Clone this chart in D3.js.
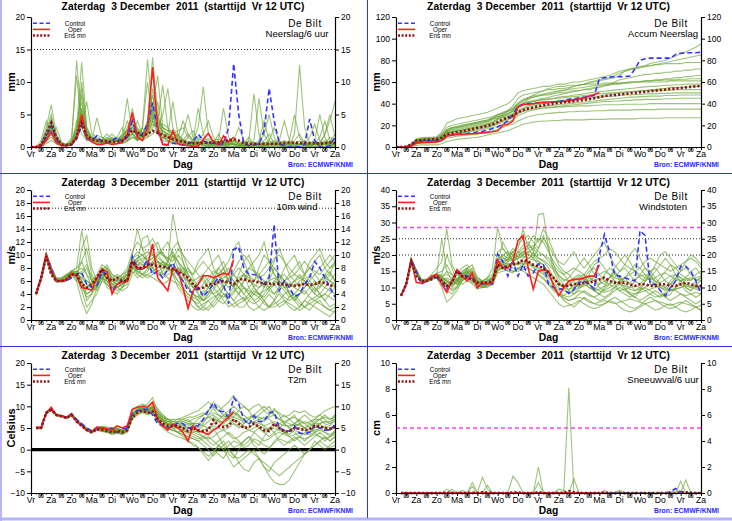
<!DOCTYPE html>
<html><head><meta charset="utf-8">
<script src="https://cdn.jsdelivr.net/npm/d3@7"></script>
<style>
html,body{margin:0;padding:0;background:#fff;}
svg{display:block;font-family:"Liberation Sans",Arial,Helvetica,sans-serif;}
</style></head><body>
<svg id="chart" width="732" height="521"></svg>
<script>
// ---------------- labels ----------------
const dayNames = ["Vr","Za","Zo","Ma","Di","Wo","Do","Vr","Za","Zo","Ma","Di","Wo","Do","Vr","Za"];
const titleText = "Zaterdag  3 December  2011  (starttijd  Vr 12 UTC)";
const legendLabels = ["Control","Oper","Ens mn"];

// ---------------- Neerslag/6 uur (t0..t60) ----------------
const precipControl = [0,0,0.1,1.5, 3.3,1.2,0.3,0.2, 0.3,1.2,3.5,1.3, 1,1.7,0.8,0.6, 1,1.5,0.8,1.5, 4,1.5,2,3.5, 6.8,2.5,0.5,0.3, 0.6,0.4,0.3,0.5, 0.8,2,1,0.5, 0.6,0.4,0.5,3, 12.8,5,0.5,0.2, 0.3,0.5,2.5,9, 4,0.5,0.2,0, 0,0,0.4,4.3, 1,0,0,0.2, 1.5];
const precipOper = [0,0,0.1,1, 2.3,0.7,0.2,0.2, 0.3,1.5,5,1.5, 0.8,0.4,0.4,0.6, 0.4,0.5,0.7,2, 5.3,1.5,1,3, 12.3,3,0.4,0.3, 2.5,0.5,0.3,0.2, 0.1,0.1,1.2,2.1, 0.8,0.3,1.7,0.8, 1.5];
const precipMean = [0,0,0.3,2, 3.7,1.5,0.4,0.3, 0.4,1.5,3.7,1.7, 1.2,1,0.9,0.9, 0.8,0.8,1,1.7, 2.6,2.2,1.8,2, 2.5,2.2,1.8,1.5, 1.2,1,0.8,0.7, 0.6,0.6,0.6,0.7, 0.7,0.7,0.8,1, 1.2,1,0.6,0.5, 0.5,0.5,0.5,0.5, 0.5,0.5,0.6,0.7, 0.7,0.6,0.6,0.6, 0.6,0.5,0.6,0.7, 0.6];
const precipMembers = [
 [0,0,0.5,3, 6.5,2,0.3,0.3, 0.5,13.3,4,1.5, 1,1.2,0.8,0.6, 1,0.8,1,1.5, 3,1.5,1,2, 9,4,2,1.5, 1,0.5,0.3,0.5, 1,3,9.3,2, 0.5,0.2,0,0.3, 0.5,0.2,0,0, 0.3,0.5,0.2,0, 0.5,0.3,0,0, 1,2,0.5,0, 0,0.3,0.5,0.2, 0],
 [0,0,0.3,1.5, 4,1,0.2,0.5, 1,3,13,3, 1.5,1,0.8,1.2, 0.7,1,2,7.5, 2,1.2,3,13.5, 5,2,1,0.8, 1.5,1,0.5,0.3, 0.2,0.5,1,0.3, 0,0,0.5,1, 0.3,0,0,1, 8.2,2,0.3,0, 0,0.5,1,0.3, 0,0,0,0.5, 1,0.3,0,0, 0.5],
 [0,0,0.5,2.5, 5,1.5,0.5,0.3, 0.5,2,8,2, 1,4.5,1.5,0.8, 0.6,0.5,0.8,1, 2.5,1,1.5,4, 13.8,5,2,2, 7,2,1,0.5, 0.3,0.2,0,0, 0.5,2,0.5,0, 0,0.3,0.5,0, 0,0,1,2, 0.5,0,0,0.2, 2,12.6,3,0.5, 0,0,0.5,1.5, 1],
 [0,0,0.2,1.5, 3,1,0.2,0.2, 1.5,11,3,1, 0.8,0.5,0.5,1, 1.5,1,0.8,1.5, 6,2,1,1.5, 3,4,9.5,3, 1,0.5,0.5,1.5, 2.5,1,0.3,0, 0,0.5,1,0.3, 0,0,0.5,1.5, 0.5,0,0,0.3, 1,0.5,0,0, 0,0.5,1,0.3, 0,0.5,2,4, 7],
 [0,0,0.3,1, 2,0.8,0.3,0.2, 0.5,2,6,2.5, 1.5,1,1.2,1.5, 1,0.8,0.5,1, 2,4,2,3, 6,11,3,1.5, 1,2,1,0.5, 0.3,0.5,0.3,0.2, 1,0.5,0.2,0, 0,0,0.3,0.2, 0,0.5,2,5, 1.5,0.3,0,0, 0,0,0.3,0.5, 1,5,1.5,0.3, 0],
 [0,0,1,4, 2,0.5,0.3,0.5, 0.8,1.5,3,7, 2,1.5,1,0.8, 0.5,0.6,1,1.5, 2,1,3,1.5, 2,2.5,5,9, 3,1.5,4,2, 1,0.5,0.5,1, 0.5,1,6,1.5, 0.5,0.2,0,0, 0.5,0.3,0,0, 0.2,1,4,1, 0.3,0,0,0, 0.5,0.3,0,0.8, 2],
 [0,0,0.2,1, 2,3,0.8,0.3, 0.3,2,10,3, 1,0.8,0.6,0.5, 1,1.5,3,1, 1.5,1,2,4, 8,3,1.5,1, 0.5,1,2,5, 1.5,0.5,0.3,0, 0,0,0.5,1, 1.5,0.5,0,0, 1,7.5,2,0.5, 0,0,0.3,0.5, 0.2,0,0,0.3, 0.5,0.5,2,5, 1.5],
 [0,0,0.1,0.5, 1,0.5,0.2,0.2, 0.5,4,2,1, 1.2,1.8,1.5,1, 0.8,1,1.5,3, 5,2,1.5,2, 6,2.5,1.5,1, 0.8,0.5,1,0.5, 0.3,1,2,4, 1.5,0.5,0.3,0, 0,0,0.5,0.8, 0.3,0,0.5,1, 3,1,0.3,0, 0,0,0.5,1.5, 3.5,1,0.3,0, 0.3],
 [0,0,0.5,1.5, 2.5,1.2,0.5,0.3, 0.8,3,9,2.5, 1,0.8,1,1.3, 2,1.2,0.6,0.8, 1.5,1.2,3,10, 4,2,1.2,1.5, 2,2.5,3,1.5, 0.8,0.5,0.2,0.2, 0.5,0.8,0.3,0.5, 1,3,1,0.3, 0,0,0.2,0.5, 0.3,0,0,1, 5,1.5,0.3,0, 0,0.3,1,0.5, 0.3],
 [0,0,0.2,0.8, 1.5,0.5,0.2,0.3, 0.5,1.5,5,1.5, 1,0.8,1.2,2, 1.2,0.8,1.5,4, 2,1,1.5,2, 4,7,2,1, 0.5,0.5,1,2, 1,6,2,0.5, 0.3,0,0,0.5, 1,0.5,0.2,0, 0.3,1,4,1, 0.5,0.3,0,0, 0,0.5,0.3,0, 0.5,1.5,4,1, 0.5],
 [0,0,0.4,2, 3.5,1.5,0.4,0.2, 0.4,2.5,7,2, 1.3,1,0.9,0.7, 0.9,1.2,1.8,2.5, 3.5,2.5,2,2.5, 5,3.5,2.5,2, 1.5,1,0.8,0.5, 0.5,0.8,0.5,0.3, 0.3,0.5,0.8,0.5, 0.8,0.5,0.3,0.2, 0.2,0.3,0.5,0.8, 0.5,0.3,0.5,0.8, 0.5,0.3,0.5,0.3, 0.5,0.8,0.5,0.3, 0.5],
 [0,0,0.2,1.2, 2.8,1,0.3,0.4, 0.6,1.8,4,1.8, 0.9,0.7,0.6,0.8, 1.1,0.9,1.2,2, 4.5,3,1.8,3, 7,4.5,3,2.5, 2.5,1.2,0.6,0.4, 0.6,1.5,0.8,0.4, 0.2,0.3,0.2,0.6, 0.4,0.2,0.6,1, 0.6,0.2,0.1,0.4, 0.8,0.4,0.2,0.3, 0.6,0.9,0.4,0.2, 0.4,0.3,0.6,0.9, 1.2],
 [0,0,0.3,1.8, 3,1.2,0.4,0.3, 0.6,2.2,6,2.2, 1.2,1.1,0.9,0.8, 1,1,1.4,2.5, 4,2.8,2,2.8, 5.5,4,3,2.5, 2,1.5,1,0.7, 0.5,0.5,0.8,0.6, 0.5,0.8,0.6,0.4, 0.5,0.8,0.6,0.4, 0.3,0.5,0.7,0.5, 0.4,0.6,0.9,0.6, 0.4,0.3,0.5,0.7, 0.5,0.4,0.6,0.8, 0.6],
 [0,0,0.2,1.3, 2.5,1,0.3,0.3, 0.5,1.6,4.5,2, 1.4,1.2,1,1.1, 1.3,1.2,1.6,2.6, 3.5,2.5,2.2,2.6, 4.5,3.5,3.5,3, 2,1.8,1.2,0.8, 0.7,0.6,1,1.3, 0.8,0.5,0.4,0.3, 0.5,0.3,0.2,0.3, 0.5,0.6,0.4,0.3, 0.3,0.6,0.5,0.4, 0.5,0.5,0.3,0.2, 0.3,0.5,0.4,0.5, 0.8],
 [0,0,0.4,2.2, 4.5,1.8,0.5,0.3, 0.4,2.8,5.5,1.5, 1,0.9,0.7,0.6, 0.8,1,1.2,1.8, 2.5,2,1.5,2, 3.5,3,2,1.8, 1.2,0.8,0.6,0.5, 0.4,0.3,0.5,0.7, 1,1.2,0.8,0.5, 0.3,0.5,0.4,0.3, 0.5,0.4,0.2,0.3, 0.6,0.8,0.5,0.3, 0.2,0.4,0.6,0.5, 0.4,0.6,0.8,0.5, 0.3],
 [0,0,0.3,1.5, 3.2,1.3,0.3,0.2, 0.4,2,4.8,2.5, 1.5,1.2,1.1,0.9, 0.7,0.9,1.1,2.2, 3,2.2,1.8,2.2, 4,3.2,2.4,2, 1.6,1.3,0.9,0.6, 0.4,0.7,0.9,0.5, 0.4,0.6,0.5,0.7, 0.9,0.6,0.4,0.5, 0.7,0.5,0.3,0.4, 0.5,0.4,0.3,0.5, 0.6,0.5,0.4,0.3, 0.5,0.7,0.5,0.4, 0.6]
];

// ---------------- Accum Neerslag (t0..t60) ----------------
const accumControl = [0,0,0.2,1.5, 4.9,5.5,5.7,5.8, 5.9,7,10,10.8, 11.5,12,12.5,13, 13.8,14.5,15.5,17, 18.5,21,24,30, 37.5,39.5,40,40.3, 40.8,41,41.2,41.5, 42,43,44,44.5, 45.5,46,47,47.5, 63,64,64.5,64.8, 65,65,65.5,72, 80,81.5,82,82, 82,82,82,85.5, 86.5,87,87,87, 87.5];
const accumOper = [0,0,0.1,1, 3.5,4.2,4.4,4.5, 4.7,6,10,11, 11.5,11.8,12,12.3, 12.6,13,13.5,14, 15,20,21,24, 37,39,39.5,40, 41,41.3,41.5,41.7, 41.8,42,42.5,43.5, 44.5,45.5,47,48.5, 50];
const accumMean = [0,0,0.3,2.3, 6,6.5,6.8,7, 7.3,8.5,12,13, 13.8,14.5,15.5,16.5, 17.5,18.5,19.5,21, 23,25.5,27,29, 32,34,35.5,36.5, 37.5,38.5,39.3,40, 40.7,41.3,41.8,42.3, 43,43.6,44.2,45, 46,47,47.5,48, 48.5,49,49.5,50, 50.5,51,51.5,52, 52.5,53,53.5,54, 54.5,55,55.5,56, 56.5];
const accumMembers = [
 [0,0,0.5,3, 7,8,8.5,8.5, 9,14,22,24, 26,27,28,29, 30,31,32,34, 36,38,40,44, 50,52,53,54, 55,56,56,57, 58,58,59,60, 60,61,62,63, 64,65,66,68, 70,71,72,73, 74,75,77,78, 79,80,82,84, 86,88,90,92, 95],
 [0,0,0.3,2, 5,6,6.5,7, 7.5,10,16,18, 19,20,21,22, 23,24,25,27, 30,32,34,38, 45,48,49,50, 51,52,53,53, 54,54,55,56, 57,58,60,61, 62,63,64,66, 68,70,71,72, 73,74,75,76, 77,78,79,80, 81,82,83,84, 85],
 [0,0,0.5,2.5, 6,7,7,7.5, 8,11,15,17, 18,19,20,21, 22,23,24,26, 28,29,31,34, 40,43,45,46, 47,48,49,50, 51,52,54,56, 57,58,59,60, 61,62,63,64, 66,70,72,73, 74,75,75,76, 76,77,77,77, 77,78,78,78, 78],
 [0,0,0.2,1.5, 4,5,5,5.5, 6,9,13,14, 15,16,17,18, 19,20,21,22, 26,28,29,31, 36,40,44,46, 47,48,48,49, 50,50,51,52, 52,53,53,54, 55,56,58,60, 62,63,64,65, 66,67,67,68, 68,69,69,70, 70,71,71,72, 72],
 [0,0,0.3,2, 5,5.5,6,6, 6.5,9,14,16, 17,18,19,20, 21,22,23,25, 27,29,31,33, 37,40,42,43, 44,45,46,47, 48,49,50,51, 52,53,54,55, 56,57,57,58, 58,59,59,60, 60,61,61,62, 62,63,63,64, 64,65,65,66, 66],
 [0,0,0.5,3, 7.5,8.5,9,9, 9.5,12,18,20, 21,22,23,24, 25,26,27,28, 30,31,33,35, 39,42,45,48, 50,52,54,55, 56,56,57,57, 57,58,58,58, 58,59,59,59, 59,59,60,60, 60,60,60,60, 60,60,61,61, 61,61,61,61, 61],
 [0,0,0.2,1.5, 4.5,5,5,5.5, 6,8,11,12, 13,14,15,16, 17,18,19,20, 22,24,26,28, 32,35,37,38, 39,40,41,42, 43,43,44,44, 45,45,46,46, 47,48,49,49, 50,50,51,51, 52,52,53,53, 54,54,55,55, 55,55,56,56, 56],
 [0,0,0.3,2, 5,6,6.5,6.5, 7,9,13,14, 15,15.5,16,17, 18,19,20,21, 23,25,27,30, 34,36,38,39, 40,40.5,41,41.5, 42,42.5,43,43.5, 44,44.5,45,45.5, 46,46.5,47,47, 47.5,48,48,48.5, 48.5,49,49,49, 49.5,49.5,49.5,50, 50,50,50,50, 50],
 [0,0,0.2,1.2, 3.5,4,4.2,4.5, 5,7,10,11, 12,13,14,14.5, 15,16,17,18, 19,21,23,25, 29,31,33,34, 35,36,36.5,37, 37.5,38,38.5,39, 39.5,40,40.5,41, 41.5,42,42,42.5, 42.5,43,43,43.5, 43.5,44,44,44, 44,44.5,44.5,44.5, 45,45,45,45, 45],
 [0,0,0.3,2.5, 6,7,7.5,8, 8,10,14,15, 16,17,18,19, 20,21,22,23, 25,27,28,30, 32,33,34,35, 35.5,36,36,36.5, 37,37,37.5,37.5, 38,38,38,38.5, 38.5,39,39,39, 39,39.5,39.5,39.5, 39.5,39.5,40,40, 40,40,40,40, 40,40,40,40, 40],
 [0,0,0.1,1, 3,3.5,3.5,4, 4,6,8,9, 10,10.5,11,11.5, 12,13,14,15, 16,18,20,21, 24,26,28,29, 30,30.5,31,31.5, 32,32,32.5,32.5, 33,33,33,33.5, 33.5,33.5,34,34, 34,34,34,34.5, 34.5,34.5,34.5,34.5, 35,35,35,35, 35,35,35,35, 35],
 [0,0,0,0.5, 1.5,2,2,2, 2,3,5,6, 7,7.5,8,8.5, 9,10,11,12, 13,14,15,17, 19,21,22,23, 23.5,24,24,24.5, 24.5,25,25,25, 25,25,25.5,25.5, 25.5,25.5,26,26, 26,26,26,26, 26.5,26.5,26.5,26.5, 26.5,27,27,27, 27,27,27,27, 27],
 [0,0,0.3,2, 5.5,6.5,7,7, 7.5,10,15,17, 18,19,20,21, 22,23,24,26, 28,30,33,36, 41,44,46,47, 48,49,50,51, 52,52.5,53,54, 54.5,55,56,56.5, 57,57.5,58,58.5, 59,59.5,60,60, 60.5,61,61,61.5, 61.5,62,62,62, 62.5,62.5,63,63, 63],
 [0,0,0.2,1.8, 5,5.5,6,6, 6.5,8.5,12,13.5, 14.5,15.5,16.5,17.5, 18.5,19.5,21,23, 26,28,30,33, 37,39,41,42, 43,44,44.5,45, 46,46.5,47,48, 48.5,49,50,50.5, 51,51.5,52,52.5, 53,53.5,54,54.5, 55,55.5,56,56, 56.5,57,57,57.5, 57.5,58,58,58, 58],
 [0,0,0.4,2.6, 6.5,7,7.5,7.5, 8,11,16,18, 19,20,21,22, 23,24,25,27, 29,31,33,35, 38,40,41,42, 43,43.5,44,44.5, 45,45.5,46,46.5, 47,47.5,48,48.5, 49,49.5,50,50, 50.5,51,51,51.5, 51.5,52,52,52, 52.5,52.5,52.5,53, 53,53,53,53, 53],
 [0,0,0.2,1.4, 4,4.5,4.8,5, 5.5,7.5,11,12, 13,13.5,14,15, 16,17,18,19.5, 21,23,25,27, 31,33,35,36, 37,37.5,38,38.5, 39,39.5,40,40.5, 41,41.5,42,42.5, 43,43.5,44,44.5, 45,45.5,46,46, 46.5,46.5,47,47, 47,47.5,47.5,47.5, 48,48,48,48, 48]
];

// ---------------- 10m wind (t1..t60) ----------------
const windControl = [4,6.5,10,8, 6,6,6,6.5, 7,7.3,5.5,5, 5.2,7.5,7,4.5, 5.5,6,6,9.8, 8,8,9.3,7, 7.5,6.5,7.8,8.8, 7,6,4.5,4.2, 5,3.6,4.5,5.5, 6.5,5.5,2.5,10.8, 11.3,8,7,7, 6.8,5.5,6.5,14.7, 4.5,6,5,3.6, 4,5.5,6.5,9, 8,6.5,5,3.5];
const windOper = [4,6.5,10,7.5, 6,6,6.2,7.2, 6.8,5,4.8,4.6, 6.5,7.8,7.4,4, 5.5,5.8,6,9, 7.8,7.8,8.3,11.7, 6.5,5.5,4.5,8, 7.5,5,1.8,4.5, 5.5,6.8,6.8,6.5, 6.8,7.2,7,9.3];
const windMean = [4,6.5,9.8,7, 6,6,6.2,7, 7,5.5,5,5.5, 6.5,7.8,6.5,6, 6.5,6,6,9, 8,8,8.5,8.5, 8.3,8.2,8,7.8, 7.5,7,6.5,5.5, 4.8,5,5.5,5.5, 5.8,6,5.8,5.5, 6.2,6.3,6,6, 5.8,5.6,5.6,5.5, 5.6,5.5,5.3,5.3, 5.4,5.5,5.4,5.5, 5.8,5.7,5.3,5.2];
const windMembers = [
 [4,6.5,10,7.5, 6,6,6.5,7.5, 8,13.8,9,6, 5,7,8,6, 5.5,6,7,10, 14,11,9,8, 9,8,9,16.3, 12,9,6,5, 4,3,4,6, 7,5,4,3, 4,6,7,5, 4,3,2,3, 5,6,4,3, 2,3,4,5, 4,3,4,5],
 [4,6,9.5,7, 6,6.2,6.8,7, 6,3,1,2.5, 5,8,7,5.5, 6,5,5.5,8, 9,12.5,13,10, 9,7,8,10, 9,8,6,3, 2,2.5,3,2, 3,4,3,2, 2.5,3,4,3, 2,1.5,2,3, 4,3,2,1.5, 2,3,2.5,2, 1.5,1,0.5,1.5],
 [4,6.8,10.2,8, 6.5,6.5,7,7.2, 7,9,7,5, 4.5,6,7.5,6.5, 7,6.5,6,9.5, 10,9,10,11, 12,10,9,11, 12,10,8,7, 9,10,11,8, 7,8,9,11, 12,9,7,6, 8,10,9,7, 6,8,9,10, 8,7,9,10, 11,9,8,9],
 [3.8,6.3,9.8,7.2, 6,5.8,6,6.8, 7.5,6,3,4, 6.5,7.5,6,5, 5,4.5,5,7, 8,7,7.5,9, 8,9,7.5,8, 7,6,5,4, 3,4,5,6, 7,8,6,5, 4,5,4,3, 3.5,5,6,8, 7,5,4,3, 4,5,7,6, 5,6,7,6],
 [4.2,6.6,10.4,7.8, 6.2,6.3,6.8,7.5, 7,5,5,6, 7,8.5,8,7, 6,6,7,9, 7,8,9,8, 7,7.5,9,10, 8,7,6,5, 6,7,8,9, 10,8,6,5, 7,9,10,8, 6,5,7,9, 11,9,7,6, 5,7,8,9, 10,8,7,9],
 [4,6.4,9.9,7.4, 5.8,6,6.3,7, 6.5,4.5,2,3, 4,6,5.5,4.5, 4,5,6,7.5, 6.5,7,7,6.5, 6,5.5,6,7, 5,4,3,2, 1.5,2,3,3.5, 4,3,2,2.5, 3,3.5,2,1.5, 2,3,4,3, 2,2.5,3.5,4, 3,2,1.5,2.5, 3,2,1.5,2],
 [4,6.5,10,7.6, 6.1,6.1,6.6,7.3, 7.5,7,6,5.5, 6,7,7,6, 5.5,6,6.5,8.5, 9.5,10,9,8.5, 10,10.5,9,8, 10,9,7,6, 4,3,4,5, 6,6.5,7,6, 5,6,8,9, 10,12,9,7, 6,5,5,6, 7,6,5,4, 6,7,6,5],
 [4.1,6.7,10.1,8.2, 6.4,6.2,6.6,7, 6,11,13,8, 6,7,5,4.5, 5,5.5,6,8, 9,8.5,8,9, 10,11,12,10, 9,7,5,4, 3.5,4.5,6,7, 8,7,6,7, 8,7,5,4, 5,6,5,4, 5,6,7,8, 9,7,6,5, 4,5,6,7],
 [3.9,6.4,9.7,7.1, 5.9,5.9,6.2,6.9, 7,6,5,5.5, 6,6.5,5.5,5, 5.5,6.5,7,8, 7.5,7,6.5,7, 7.5,8,8.5,7, 6,5,4,3.5, 3,2,1.5,2.5, 3.5,5,6,5, 4,3,3.5,4.5, 4,3,2,2.5, 3,4,4.5,3.5, 2.5,2,3,3.5, 4,3,2,2.5],
 [4,6.6,10.3,8, 6.3,6.4,7,7.6, 8,9,11,7, 5.5,6.5,7,6, 6,7,8,10.5, 12,11,11.5,12.5, 11,10,9.5,9, 11,10,9,8, 7,6,5,6, 8,9,7,6, 5,4,5,6, 7,6,5,6, 7,6,4,3, 4,5,6,7, 8,9,10,9],
 [4,6.5,10,7.5, 6,6.1,6.5,7.2, 6.5,5.5,4,4.5, 5.5,7,6.5,5.5, 5,5.5,6,8, 8.5,9,8,7.5, 8,9,8.5,8, 7,6.5,6,5, 5.5,6.5,5,4, 4.5,5.5,6.5,7, 6,5,4,5, 6,5.5,4.5,4, 5,6,5.5,5, 4.5,4,5,6, 5.5,5,4.5,4],
 [4,6.5,10,7.7, 6.1,6,6.5,7.4, 7.5,7,8,6, 5,6.5,7,5.5, 4.5,5,6.5,9, 9.5,10,10.5,10, 9,8.5,8,7.5, 8,7,8,6.5, 5,4,5,6.5, 5,4,3.5,4, 6,7,6.5,5, 4,3.5,4.5,5.5, 6.5,7,6,5, 6,6.5,5.5,4.5, 5,6.5,7.5,6],
 [4,6.5,10,7.8, 6.2,6.2,6.8,7.4, 7.2,6.5,5.5,5, 6.5,8,7.5,6.2, 6.2,6.5,7.5,9.5, 9,9.5,9.5,10, 9.5,9,8.5,8.5, 7.5,6,5,4, 3.5,3,3.5,4.5, 6,7,8,7, 6,5,4.5,4, 4,4.5,5,6, 5.5,4.5,3.5,4, 5,6,5,4, 3.5,4,5,6],
 [4,6.4,9.9,7.3, 5.9,6,6.4,7.1, 6.8,7.5,8.5,6.5, 5.5,7.5,8.5,7, 6.5,7,7.5,9, 8.5,8,9,9.5, 10,9,8,7, 7.5,8,7,6, 6.5,7,6,5, 4,3.5,4,5, 6,7,8,7.5, 7,8,9,8, 7,6,6.5,7, 8,9,8,7, 6,7,8,8.5],
 [4,6.5,10,7.6, 6,6,6.4,7.2, 7,6,4,4.5, 5,6.5,6,5, 5,5.5,6,8.5, 7.5,7,8,8, 7.5,7,6.5,6, 5.5,4.5,3.5,3, 2.5,3.5,4.5,4, 3,2.5,3.5,4.5, 5,4,3,2.5, 3,4,5,5.5, 4.5,3.5,3,3.5, 4,4.5,3.5,3, 3.5,4,3.5,3],
 [4,6.6,10.1,7.9, 6.3,6.3,6.9,7.5, 7.5,8,7,6, 6,8,8,6.5, 6,6.5,7,9.5, 10.5,10,9,9.5, 10.5,10,9.5,10.5, 9,8,7.5,7, 8,9,8,7, 6,5,6,7.5, 9,10,9,7.5, 6.5,7,8,9.5, 10,9,8,7, 6.5,7,8,7.5, 7,8,9,10],
 [4,6.5,10,7.5, 6,6,6.5,7.3, 7,6.5,6,5.5, 6,7,6.5,5.5, 5.5,6,6.5,8.8, 8.5,8.5,8,8.5, 9,8.5,8,7.5, 8,7.5,6.5,5.5, 4.5,5.5,6.5,7.5, 7,6,5,5.5, 6.5,7,6,5.5, 5,5.5,6,6.5, 6,5,5.5,6, 6.5,6,5,5.5, 6,6.5,6,5.5],
 [4,6.5,10,7.5, 6,6.1,6.6,7.4, 7,5,3.5,4, 5.5,6.5,6,5, 5,5.5,6.5,8, 7,6.5,7,7.5, 7,6.5,7,7.5, 6,5,4,3, 2,1.5,2,3, 4,5,4,3, 2,2,3,4, 3.5,2.5,2,2, 2.5,3,2.5,2, 1.5,2,2.5,3, 2.5,2,1.5,1.2]
];

// ---------------- Windstoten (t1..t60) ----------------
const gustControl = [7.5,11,18.5,15, 11,12,13,13, 11.5,9.5,12,15.5, 14,13.5,13,10, 11,11.5,11,20.3, 18,13.5,18,13.5, 17,13.5,14.5,17.3, 17,11,10,9.5, 9.5,8.2,9.5,11.5, 12,11,9.5,20, 26.3,21,14,13.5, 13,12.5,12,27.5, 26,11,11,9, 7.5,10,12,16.5, 16.5,15,12,8];
const gustOper = [7.5,11,18.5,11.5, 11.3,12,13.5,14, 11,8.5,12,15.5, 13.5,12,14.5,10, 11.5,11,11.5,18.5, 16,16,18,24.5, 26,16,9.5,15, 15.5,15,10.5,7.5, 10,12,12.5,12.5, 13,13.5,13.5,17];
const gustMean = [7.5,11,18,13.5, 12,12,12.5,13.5, 12,10.5,11.5,15, 13.5,13,12.5,11.5, 11.5,11.5,12,17, 16,16.5,17,17.5, 18.5,18,17,16.5, 16,14.5,13,11, 10.5,10.5,11,11, 11.5,11.5,12,12.5, 13,12,11.5,11.5, 11.5,11,10.5,11, 11,10.5,10.5,11, 11,10.5,10.5,11, 11.5,11,10.5,10.5];
const gustMembers = [
 [7.5,11,18.5,15, 12,12.5,14,16, 18,28,17,14, 13,14,16,13, 12,13,16,28.5, 22,20,21,22, 28,22,20,32.5, 32.8,22,15,12, 10,8,9,12, 14,11,9,8, 10,13,15,12, 10,8,7,9, 12,14,11,9, 7,8,10,12, 10,9,11,10],
 [7.3,10.8,18,14, 11.5,12,12.5,13, 10,5.5,7,9, 12,13,11,9.5, 10,11,12,16, 17,19,21,18, 17,19,20,18, 17,14,11,8, 6,5,4,5.5, 7,6,5,4.5, 5,6,7,6, 5,4,3.5,4.5, 6,7,6,5, 4,3.5,4,5, 6,5,4,3],
 [7.6,11.2,19,15.5, 12.5,12.5,13,14, 13,15,14,12.5, 15,16,14,12, 11,12,13.5,17, 19,18.5,21,23, 25,26,24,22, 25,23,20,18, 17,19,21,18, 16,18,20,22, 24,20,17,15, 17,20,22,19, 16,14,17,20, 21,19,17,15, 18,20,19,17],
 [7.4,10.9,17.5,14.5, 11.5,11.8,12.5,13, 12,11,9,10, 12,14,13,11, 10,10,11,15, 16,15,14.5,16, 17,16,15,14, 13,11,9,8, 7.5,9,11,12, 13,11,9,8, 7,8,10,12, 13,11,9,10, 12,14,12,10, 9,11,13,12, 10,9,11,12],
 [7.5,11.1,18.8,15.2, 12.2,12,13,13.5, 12.5,10,11,14, 16,17,15,12, 11.5,12,12.5,18, 18,17,17.5,20, 21,22,23,21, 20,18,16,14, 12,13,15,17, 19,17,14,12, 11,13,16,18, 20,18,15,13, 12,13,15,17, 19,17,14,12, 13,15,16,14],
 [7.5,11,18.2,14.8, 11.8,11.8,12.8,14, 25,15,12,11, 12.5,13,12,11, 10.5,11,12,16.5, 17.5,16,15,16, 15,14,13,12, 11,9,7,5, 4,4.5,5,6, 5,4,3.5,4, 5,6,5.5,4, 3,2.5,3,4, 5,4,3,3.5, 4.5,5,4,3, 2.5,3,4,3],
 [7.6,11,18.6,15, 12,12.2,13.2,14.2, 13.5,12,10,12, 14,15,13,11.5, 11,11.5,12,19, 20,19,19.5,21, 23,24,21,19, 18,16,13,11, 10,11,13,14, 12,10,9,11, 14,16,15,13, 11,10,12,14, 16,15,13,11, 10,12,14,13, 11,10,12,13],
 [7.4,11,18.4,14.6, 11.8,12,12.8,13.6, 14,20,16,12, 11,12,11.5,10.5, 10,10.5,11.5,17.5, 24,21,18,17, 19,20.5,19,22, 26,22,17,13, 11,9,8,9.5, 11,13,12,10, 9,10,11,9, 8,7,8,9, 10,9,8,7, 8,9,10,11, 9,8,7,8],
 [7.5,11,18.5,15, 12,12,13,13.8, 12,9,8,10, 13,15.5,14.5,12, 11,11,12,16, 18,20,22,21, 20,21,22,25, 24,21,18,16, 14,12,10,11, 13,15,16,14, 12,11,13,15, 16,14,12,11, 13,15,16,14, 12,11,13,15, 16,14,12,13],
 [7.5,11,18.3,14.8, 12,12,13,13.5, 12.5,13,12,11, 13,14,12.5,11, 10,11,12,15.5, 16,17,16,15.5, 17,18,16,15, 14,12,10,8, 7,6,6.5,8, 9,8,7,6, 6.5,7.5,9,10, 9,8,7,6, 7,8,9,8, 7,6,7,8, 7,6,5,6],
 [7.6,11.1,18.7,15.3, 12.3,12.4,13.4,14.4, 15,17,14,12, 14,16,17,13, 12,13,14,21, 22,20,18,19, 20,23,26,24, 28,25,21,17, 15,14,12,10, 12,14,17,18, 16,14,12,11, 13,15,17,16, 14,12,11,13, 15,17,16,14, 13,12,14,15],
 [7.5,11,18.5,15, 12,12,13,13.6, 12.5,11,10.5,11.5, 13.5,14.5,13.5,12, 11,11.5,12,17, 17,16.5,17,17.5, 18,17.5,17,16, 15,13.5,12.5,11, 10,9.5,10,10.5, 11,10,9,9.5, 10.5,11,10,9, 9.5,10,10.5,10, 9,9.5,10,10.5, 10,9,9.5,10, 10.5,10,9.5,9],
 [7.5,11,18.5,15, 12,12.1,13.1,14, 13,12.5,11,12, 14,15,13.5,12, 11.5,12,13,18.5, 19.5,18,18.5,19, 19.5,19,18.5,18, 17,15,13,11.5, 10,10.5,12,13.5, 14,13,12,11, 12,13,14,13, 12,11.5,12.5,13.5, 14,13,12,11.5, 12.5,13.5,14,13, 12,12.5,13,13.5],
 [7.5,11,18.4,14.9, 11.9,12,12.9,13.7, 12.8,12,11.5,12.5, 14.5,16,14,11.5, 10.5,11,11.5,15.5, 16.5,18,20,19.5, 21,20,19,17, 16,14,11,9, 7.5,7,8,9, 8.5,7.5,7,8, 9.5,11,12,11, 9.5,8.5,8,8.5, 9,8,7,7.5, 8.5,9.5,9,8, 7.5,8,8.5,8],
 [7.5,11,18.6,15.1, 12.1,12.2,13.2,14.1, 13.5,14,13,12, 13,14.5,15,13, 12,12.5,13,18, 20,21,20,20.5, 22,23,22,20, 20,19,17,15, 14,15,16,15, 14,16,18,19, 20,22,21,19, 17,16,15,16, 18,19,18,17, 16,15,16,17, 18,19,18,16],
 [7.4,10.9,18.2,14.7, 11.9,11.9,12.7,13.4, 12,10.5,9.5,10.5, 12.5,13,12,10.5, 10,10.5,11,14.5, 15,15.5,15,15, 15.5,16,15,14, 12.5,11,9.5,8, 6.5,6,6.5,7, 6.5,5.5,5,5.5, 6,5.5,5,5.5, 6,6.5,6,5.5, 5,5.5,6,5.5, 5,4.5,5,5.5, 5,4.5,4,4.5],
 [7.5,11,18.5,15, 12,12.1,13.1,14, 13,12,11,12.5, 14,15,14,12.5, 11.5,12,12.5,17.5, 18,18.5,19,19.5, 20,21,20.5,19, 18.5,17,15.5,13.5, 12.5,12,12.5,13, 12.5,12,13,14, 15,14,13,12.5, 13,14,15,14, 13,12.5,13,14, 14.5,13.5,12.5,12, 12.5,13,12.5,12],
 [7.5,11,18.5,15, 12,12,13,13.7, 12.5,11.5,11,12, 13.5,14,13,11.5, 11,11.5,12,16, 17,17.5,17,17, 17.5,17,16.5,15.5, 14.5,13,11.5,10, 9,8.5,9,10, 10.5,11,10,9, 8.5,9,10,11, 10.5,9.5,9,9.5, 10,11,10.5,10, 9.5,9,9.5,10, 11,10.5,10,9.5]
];

// ---------------- T2m (t1..t60) ----------------
const tempControl = [5,5.2,8.5,9.3, 8,7.8,7.5,8.3, 7,6,5,4.3, 5,5,4.8,5, 4,4.8,5,8.5, 9,9.3,9.3,8, 6,5.5,5,5.3, 6.2,6,5,5.3, 5.5,7,9,10.8, 9,8.7,7.5,12, 10.5,7,5.8,7.8, 6.5,6.5,8.5,8.7, 5,4.5,4.2,5.5, 3.8,3.7,4,5.8, 5,4.5,4.5,5.8];
const tempOper = [5.2,5,8.5,9.8, 8,7.8,7.3,8.2, 6.5,5.5,4.5,4, 5.2,5,4.8,4.5, 5.5,5,5.5,9.3, 9.8,10,9.8,11, 7,5.5,4.5,5.8, 5,4,2,5.5, 4.3,4,3.5,4.5, 5.2,6.5,7.5,8.7];
const tempMean = [5,5,8.5,9.2, 8,7.7,7.3,8, 6.5,5.5,4.5,4, 4.7,4.6,4.3,4, 4.3,4,4.5,7.5, 8.5,9,8.5,8.8, 7,6,5.5,5.5, 5.5,5,4.3,5, 4.5,4.3,4.5,6.8, 5.5,5.2,5.5,7, 6,5,5.2,6, 5.3,4.5,4.3,6, 5,4.2,4.2,5, 4.8,4.5,4.7,5.5, 5.3,5,4.8,5.3];
const tempMembers = [
 [5,5,8.5,9.3, 8,7.8,7.4,8, 6.8,5.8,4.8,4.2, 5,5.2,5,4.8, 5,4.5,5,8.5, 9.5,10,10.5,12, 9,7,6,5, 4,3,2,1.5, 0.5,-1,-2.5,-1, 1,0,-2,-4, -3,-4.5,-5,-3, -2,-4,-6,-7.5, -8,-8,-7,-5, -3,-1,0,1, 2,1,0.5,1],
 [5.1,5.2,8.7,9.5, 8.2,8,7.6,8.4, 7,6,5,4.5, 5.2,5.4,5.2,5, 5.5,5,5.5,9, 10,10.5,10,11, 9.5,8,7,6.5, 7,7.5,8,8.5, 9,10,11,10, 9,10,11,12.5, 11,10,9,10, 10.5,9,8,9, 8.5,7.5,8,9, 8.5,9,8,7.5, 8,9,9.5,10],
 [4.9,4.8,8.2,9, 7.8,7.6,7.2,7.8, 6.5,5.5,4.5,4, 4.5,4.2,4,3.5, 3.8,3.5,4,7, 8,8.5,8,8.5, 7,6,5,4.5, 4,3.5,3,2.5, 2,1,0,-1.5, 0,1,2,0.5, 1,2,3,1, 0,-1,0,2, 3,4,3,2, 3,4,5,4, 3,2,3,4],
 [5,5.1,8.6,9.4, 8.1,7.8,7.4,8.2, 6.8,5.8,4.8,4.3, 5,4.8,4.6,4.2, 4.5,4.2,4.8,8, 9,9.5,9,9.8, 8.5,7.5,7,6.5, 6,6.5,7,6, 5,6,8,9.5, 8,7,8,9, 8,6,7,8, 7,6.5,8,9.5, 8,6,5,6, 7,6,5,6.5, 7,6,5.5,7],
 [5,5,8.4,9.2, 8,7.7,7.3,8, 6.6,5.6,4.6,4.1, 4.6,4.4,4.2,3.8, 4,3.8,4.3,7.5, 8.5,9,8.5,9, 6.5,5.5,5,4.5, 4,4.5,3.5,3, 2.5,3,4,5, 3,1,-1,-2, 0,2,3,2, 1,3,5,4, 2,1,2,3, 2,1,2,3, 4,3,2,3],
 [5,5,8.6,9.3, 8,7.8,7.5,8.1, 6.7,5.7,4.7,4.1, 4.8,4.9,4.7,4.4, 4.8,4.4,4.9,8.2, 9.2,9.6,9.2,10, 8,7,6,6, 6.5,7,6.5,6, 7,8,9,11, 10,9,8,7.5, 9,10,9,7, 8,9,10,8, 7,6,7,8, 6,5,6,7, 8,7,6,8],
 [5,5,8.5,9.2, 8,7.7,7.4,8, 6.6,5.6,4.6,4, 4.6,4.5,4.3,4, 4.2,3.8,4.4,7.8, 8.8,9.2,8.5,9, 7.5,6.5,6,5.5, 5,4.5,4,3.5, 3,2,1,0, -1,-2,0,-1, -3,-2,-1,0, -2,-4,-5,-3, -2,-1,0,1, 0,-1,0,2, 1,0,1,2],
 [5,5.1,8.5,9.3, 8.1,7.9,7.5,8.2, 6.8,5.9,4.9,4.3, 5,5,4.8,4.5, 4.9,4.6,5,8.4, 9.3,9.8,9.5,10.5, 9,8,7,6, 5.5,5,5.5,6, 6,5.5,5,6, 7,8,7,6, 5,6,7,6, 5,4,5,6, 5,4,4.5,5, 6,5,4,5, 6,5,4.5,5.5],
 [5,5,8.5,9.3, 8,7.8,7.4,8.1, 6.7,5.7,4.7,4.2, 4.8,4.7,4.5,4.2, 4.6,4.2,4.6,8, 9,9.5,9,9.5, 8,6.5,5.5,5, 5,5.5,6,5.5, 4,3,2,1, 2,3,4,3, 2,1,2,4, 5,4,3,4, 5,6,5,4, 3,2,3,4, 5,4,3,4.5],
 [5,5,8.5,9.3, 8,7.8,7.4,8.1, 6.7,5.7,4.7,4.2, 4.8,4.8,4.5,4.2, 4.7,4.3,4.8,8.2, 9,9.4,9.2,10, 8.5,7.5,6.5,6, 6,6,6.5,7, 7.5,8,9,10, 9,8,9,10, 9,8,7,8, 9,10,9,8, 7,8,7,6, 7,8,7,6, 7,8,7,8],
 [5,4.9,8.3,9.1, 7.9,7.7,7.3,7.9, 6.5,5.5,4.5,4, 4.5,4.3,4,3.6, 3.9,3.6,4.2,7.2, 8.2,8.8,8.2,8.7, 6.5,5,4,3.5, 3,2.5,2,1, 0.5,-0.5,-1.5,-0.5, 1,2,0,-1.5, -2,-1,0,-1, -2,-3,-4,-5, -6,-5,-4,-3, -2,-1,0,1, 2,3,2,3],
 [5,5,8.5,9.3, 8,7.8,7.4,8.1, 6.7,5.7,4.7,4.2, 4.8,4.7,4.5,4.2, 4.6,4.2,4.7,8, 9,9.4,9,9.5, 7.5,6.5,6,5.5, 5,5,5,4.5, 4,4.5,5,5.5, 5,4.5,5,6, 5.5,5,4.5,5, 5.5,5,4.5,5, 4.5,4,4.5,5, 5,4.5,4,4.5, 5,5.5,5,5.5],
 [5,5,8.5,9.3, 8,7.8,7.4,8.1, 6.7,5.7,4.7,4.2, 4.7,4.6,4.4,4, 4.4,4,4.5,7.8, 8.8,9.2,8.8,9.2, 7.5,6.5,5.5,5, 5,4.5,4,4, 4.5,5.5,6.5,7.5, 6.5,5.5,6,7, 6.5,5.5,5,6, 6.5,5.5,4.5,5.5, 5,4,3.5,4.5, 4,3.5,4,5, 5.5,5,4.5,5],
 [5,5,8.5,9.3, 8,7.8,7.4,8.1, 6.7,5.7,4.7,4.2, 4.9,4.9,4.7,4.4, 4.8,4.4,4.9,8.3, 9.3,9.7,9.3,10, 8.5,7.5,7,7, 7,7,7.5,7.5, 8,8.5,8,8.5, 8,7.5,8,8.5, 7.5,7,7.5,8, 7.5,7,7.5,8, 7,6.5,7,7.5, 6.5,6,6.5,7, 7,7.5,7,7.5],
 [5,5,8.5,9.2, 8,7.7,7.3,8, 6.6,5.6,4.6,4.1, 4.6,4.5,4.2,3.9, 4.1,3.8,4.3,7.6, 8.6,9,8.5,8.8, 6.8,5.8,5,4.5, 4,3.5,3,2.5, 2,2.5,3,2, 1,0,1,2, 1.5,0.5,1,2.5, 2,1,0.5,1.5, 2.5,2,1.5,2.5, 3,2.5,3,3.5, 3,2.5,3,3.5],
 [5,5,8.5,9.3, 8,7.8,7.4,8.1, 6.7,5.7,4.7,4.2, 4.8,4.8,4.6,4.3, 4.7,4.3,4.7,8.1, 9.1,9.5,9.1,9.7, 8,7,6.5,6, 6,5.5,5,5, 5.5,6.5,7.5,8, 7,6,7,8.5, 8,7,6,6.5, 7,7.5,7,6, 6,6.5,6,5.5, 6,6.5,6,5.5, 6,6.5,6,6.5],
 [5,5,8.5,9.3, 8,7.8,7.4,8.1, 6.7,5.7,4.7,4.2, 4.7,4.6,4.4,4.1, 4.5,4.1,4.6,7.9, 8.9,9.3,8.9,9.3, 7.8,6.8,6,5.5, 5.5,5,4.5,4, 3.5,3,2.5,3, 4,4.5,3.5,2.5, 3,4,4.5,4, 3,2,2.5,3.5, 4,3.5,3,3.5, 4,3.5,3.5,4, 4.5,4,3.5,4],
 [5,5,8.5,9.3, 8,7.8,7.4,8.1, 6.7,5.7,4.7,4.2, 4.8,4.7,4.5,4.2, 4.6,4.2,4.7,8, 9,9.4,9.1,9.6, 8,7,6.5,6.5, 6.5,6.5,6,6, 6,7,7.5,7, 6.5,6.5,7,7.5, 7,6.5,6,6.5, 6,5.5,6,6.5, 6,5.5,5.5,6, 5.5,5,5.5,6, 6,6.5,6.5,7]
];

// ---------------- Sneeuwval/6 uur (t1..t60) ----------------
const snowControl = [0,0,0,0, 0,0,0,0, 0,0,0,0, 0,0,0,0, 0,0,0,0, 0,0,0,0, 0,0,0,0, 0,0,0,0, 0,0,0,0, 0,0,0,0, 0,0,0,0, 0,0,0,0, 0,0,0,0, 0,0.1,0.35,0.1, 0,0,0,0];
const snowOper = [0,0,0,0, 0,0,0,0, 0,0,0,0, 0,0,0,0, 0,0,0,0, 0,0,0,0, 0,0,0,0, 0,0,0,0, 0,0,0,0, 0,0,0,0];
const snowMean = [0,0,0,0, 0,0,0,0, 0,0.02,0,0, 0,0,0.03,0, 0.05,0.03,0,0, 0,0,0.05,0.03, 0,0,0,0.06, 0,0,0,0.02, 0,0.15,0.06,0, 0,0,0,0, 0.02,0,0,0.02, 0,0,0,0, 0,0,0,0, 0,0,0,0.05, 0.05,0.03,0,0];
const snowMembers = [
 [0,0,0,0, 0,0,0,0, 0,0.3,0.1,0, 0,0,0.8,0, 0,0,0,0, 0,0,0,0, 0,0,0,2, 0,0,0,0, 0,8.1,0,0, 0,0,0,0, 0,0,0,0, 0,0,0,0, 0,0,0,0, 0,0,0,0.9, 0,0,0,0],
 [0,0,0,0, 0,0,0,0, 0,0,0,0, 0.2,0,0,0, 1.2,0.3,0,0, 0,0,0,0, 0,0,0,0.8, 0,0,0,0, 0,0,1.1,0, 0,0,0,0, 0,0,0,0, 0,0,0,0, 0,0,0,0, 0,0,0,0, 1,0,0,0],
 [0,0,0,0, 0,0,0,0, 0,0,0,0, 0,0,0,0, 0,0.6,0,0, 0,0,1.3,0.8, 0,0,0,0, 0,0,0,0, 0,0,0,0, 0,0,0,0, 0.2,0,0,0.2, 0,0,0,0, 0,0,0,0, 0,0,0,0, 0,0,0,0],
 [0,0,0,0, 0,0,0,0, 0,0,0.3,0, 0,0,0.5,0, 0,0,0,0, 0,0,0,0, 0,0,0,0, 0,0,0,0.3, 0.2,0,0,0, 0,0,0,0, 0,0,0,0, 0,0,0,0, 0,0,0,0, 0,0,0.3,0, 0,0,0,0]
];

// ---------------- panel definitions ----------------
const panels = [
 {col:0,row:0,ylabel:"mm",name:"Neerslag/6 uur",domain:[0,20],ticks:[0,5,10,15,20],start:0,
  members:precipMembers,control:precipControl,oper:precipOper,mean:precipMean,
  refs:[{v:15,kind:"dot"}]},
 {col:1,row:0,ylabel:"mm",name:"Accum Neerslag",domain:[0,120],ticks:[0,20,40,60,80,100,120],start:0,
  members:accumMembers,control:accumControl,oper:accumOper,mean:accumMean,refs:[]},
 {col:0,row:1,ylabel:"m/s",name:"10m wind",domain:[0,20],ticks:[0,2,4,6,8,10,12,14,16,18,20],start:1,
  members:windMembers,control:windControl,oper:windOper,mean:windMean,
  refs:[{v:10.8,kind:"dot"},{v:13.9,kind:"dot"},{v:17.2,kind:"dot"}]},
 {col:1,row:1,ylabel:"m/s",name:"Windstoten",domain:[0,40],ticks:[0,5,10,15,20,25,30,35,40],start:1,
  members:gustMembers,control:gustControl,oper:gustOper,mean:gustMean,
  refs:[{v:20,kind:"dot"},{v:25,kind:"dot"},{v:28.5,kind:"mag"}]},
 {col:0,row:2,ylabel:"Celsius",name:"T2m",domain:[-10,20],ticks:[-10,-5,0,5,10,15,20],start:1,
  members:tempMembers,control:tempControl,oper:tempOper,mean:tempMean,
  refs:[{v:0,kind:"thick"}]},
 {col:1,row:2,ylabel:"cm",name:"Sneeuwval/6 uur",domain:[0,10],ticks:[0,2,4,6,8,10],start:1,
  members:snowMembers,control:snowControl,oper:snowOper,mean:snowMean,
  refs:[{v:5,kind:"mag"}]}
];

// ---------------- drawing ----------------
const svg = d3.select("#chart");
const W = 732, H = 521;
const colX = [31, 396], colW = [304, 305];
const rowY = [0, 173, 346];
const titleBase = [10, 186, 359];
const C = {member:"#6aa535", control:"#3535ff", oper:"#ff1e1e", mean:"#8b1616",
           sep:"#3030e8", frame:"#b4b4ff", bron:"#2a2aff", mag:"#ff40ff"};

svg.append("rect").attr("x",0).attr("y",0).attr("width",W).attr("height",H).attr("fill","#fff");
svg.append("line").attr("x1",1).attr("x2",1).attr("y1",0).attr("y2",H).attr("stroke",C.frame).attr("stroke-width",2);
svg.append("line").attr("x1",0).attr("x2",W).attr("y1",519).attr("y2",519).attr("stroke",C.frame).attr("stroke-width",3);
svg.append("line").attr("x1",367.5).attr("x2",367.5).attr("y1",0).attr("y2",518).attr("stroke",C.sep).attr("stroke-width",1);
[173.5, 346.5].forEach(yy => svg.append("line").attr("x1",0).attr("x2",W).attr("y1",yy).attr("y2",yy).attr("stroke",C.sep).attr("stroke-width",1));

panels.forEach(p => {
  const x0 = colX[p.col], x1 = x0 + colW[p.col];
  const top = rowY[p.row] + 17, bottom = top + 130;
  const x = d3.scaleLinear().domain([0,60]).range([x0,x1]);
  const y = d3.scaleLinear().domain(p.domain).range([bottom, top]);
  const g = svg.append("g");
  const mk = (start) => d3.line().x((d,i)=>x(i+start)).y(d=>y(d));

  g.append("text").attr("x",(x0+x1)/2).attr("y",titleBase[p.row]).attr("text-anchor","middle")
    .style("white-space","pre").attr("font-size",10.2).attr("font-weight","bold").attr("letter-spacing",0.1)
    .text(titleText);

  p.refs.forEach(r => {
    const ln = g.append("line").attr("x1",x0).attr("x2",x1).attr("y1",y(r.v)).attr("y2",y(r.v));
    if (r.kind==="dot") ln.attr("stroke","#222").attr("stroke-width",1).attr("stroke-dasharray","1,2");
    else if (r.kind==="mag") ln.attr("stroke",C.mag).attr("stroke-width",1.5).attr("stroke-dasharray","4,3");
    else ln.attr("stroke","#000").attr("stroke-width",3.2);
  });

  g.append("g").selectAll("path").data(p.members).join("path")
    .attr("d", d => mk(p.start)(d)).attr("fill","none")
    .attr("stroke",C.member).attr("stroke-opacity",0.65).attr("stroke-width",1.1);

  g.append("path").attr("d",mk(p.start)(p.control)).attr("fill","none").attr("stroke",C.control)
    .attr("stroke-width",1.6).attr("stroke-dasharray","5,3");
  g.append("path").attr("d",mk(p.start)(p.oper)).attr("fill","none").attr("stroke",C.oper)
    .attr("stroke-width",1.6);
  g.append("path").attr("d",mk(p.start)(p.mean)).attr("fill","none").attr("stroke",C.mean)
    .attr("stroke-width",2.6).attr("stroke-dasharray","2.2,2");

  const styleAxis = sel => {
    sel.select(".domain").attr("stroke","#000").attr("stroke-width",1.2);
    sel.selectAll(".tick line").attr("stroke","#000");
    sel.selectAll("text").attr("font-size",8.5).attr("fill","#000").attr("font-family","Liberation Sans, Arial, sans-serif");
  };
  g.append("g").attr("transform",`translate(${x0},0)`)
    .call(d3.axisLeft(y).tickValues(p.ticks).tickSize(4).tickSizeOuter(0).tickPadding(2).tickFormat(d3.format("d")))
    .call(styleAxis);
  g.append("g").attr("transform",`translate(${x1},0)`)
    .call(d3.axisRight(y).tickValues(p.ticks).tickSize(4).tickSizeOuter(0).tickPadding(2).tickFormat(d3.format("d")))
    .call(styleAxis);
  const xa = g.append("g").attr("transform",`translate(0,${bottom})`)
    .call(d3.axisBottom(x).tickValues(d3.range(0,61)).tickSize(2).tickSizeOuter(0).tickFormat(""));
  styleAxis(xa);
  xa.selectAll(".tick line").attr("y2", d => d%2===0 ? 3 : 1.5);

  g.append("g").selectAll("text").data(dayNames).join("text")
    .attr("x",(d,i)=>x(i*4)).attr("y",bottom+10).attr("text-anchor","middle")
    .attr("font-size",8.6).text(d=>d);
  g.append("g").selectAll("text").data(d3.range(15)).join("text")
    .attr("x",i=>x(i*4+2)).attr("y",bottom+5.2).attr("text-anchor","middle")
    .attr("font-size",5).attr("font-weight","bold").text("00");

  g.append("text").attr("x",(x0+x1)/2).attr("y",bottom+21.3).attr("text-anchor","middle")
    .attr("font-size",10.3).attr("font-weight","bold").text("Dag");
  g.append("text").attr("transform",`translate(${x0-16},${(top+bottom)/2}) rotate(-90)`)
    .attr("text-anchor","middle").attr("font-size",11).attr("font-weight","bold").text(p.ylabel);
  g.append("text").attr("x",x1+18).attr("y",bottom+19.5).attr("text-anchor","end")
    .attr("font-size",6.8).attr("font-weight","bold").attr("fill",C.bron).text("Bron: ECMWF/KNMI");

  g.append("text").attr("x",x1-30).attr("y",top+9.5).attr("text-anchor","middle")
    .attr("font-size",10).attr("letter-spacing",0.6).text("De Bilt");
  g.append("text").attr("x",x1-38).attr("y",top+20).attr("text-anchor","middle")
    .attr("font-size",9.6).text(p.name);

  const lg = [
    {c:C.control,w:1.6,dash:"4,2.5",dy:6.3},
    {c:C.oper,w:1.6,dash:null,dy:12.4},
    {c:C.mean,w:2.5,dash:"2,1.6",dy:18.5}
  ];
  lg.forEach((l,i) => {
    const ln = g.append("line").attr("x1",x0+2).attr("x2",x0+19).attr("y1",top+l.dy).attr("y2",top+l.dy)
      .attr("stroke",l.c).attr("stroke-width",l.w);
    if (l.dash) ln.attr("stroke-dasharray",l.dash);
    g.append("text").attr("x",x0+44).attr("y",top+l.dy+2.2).attr("text-anchor","middle")
      .attr("font-size",6.3).text(legendLabels[i]);
  });
});
</script></body></html>
